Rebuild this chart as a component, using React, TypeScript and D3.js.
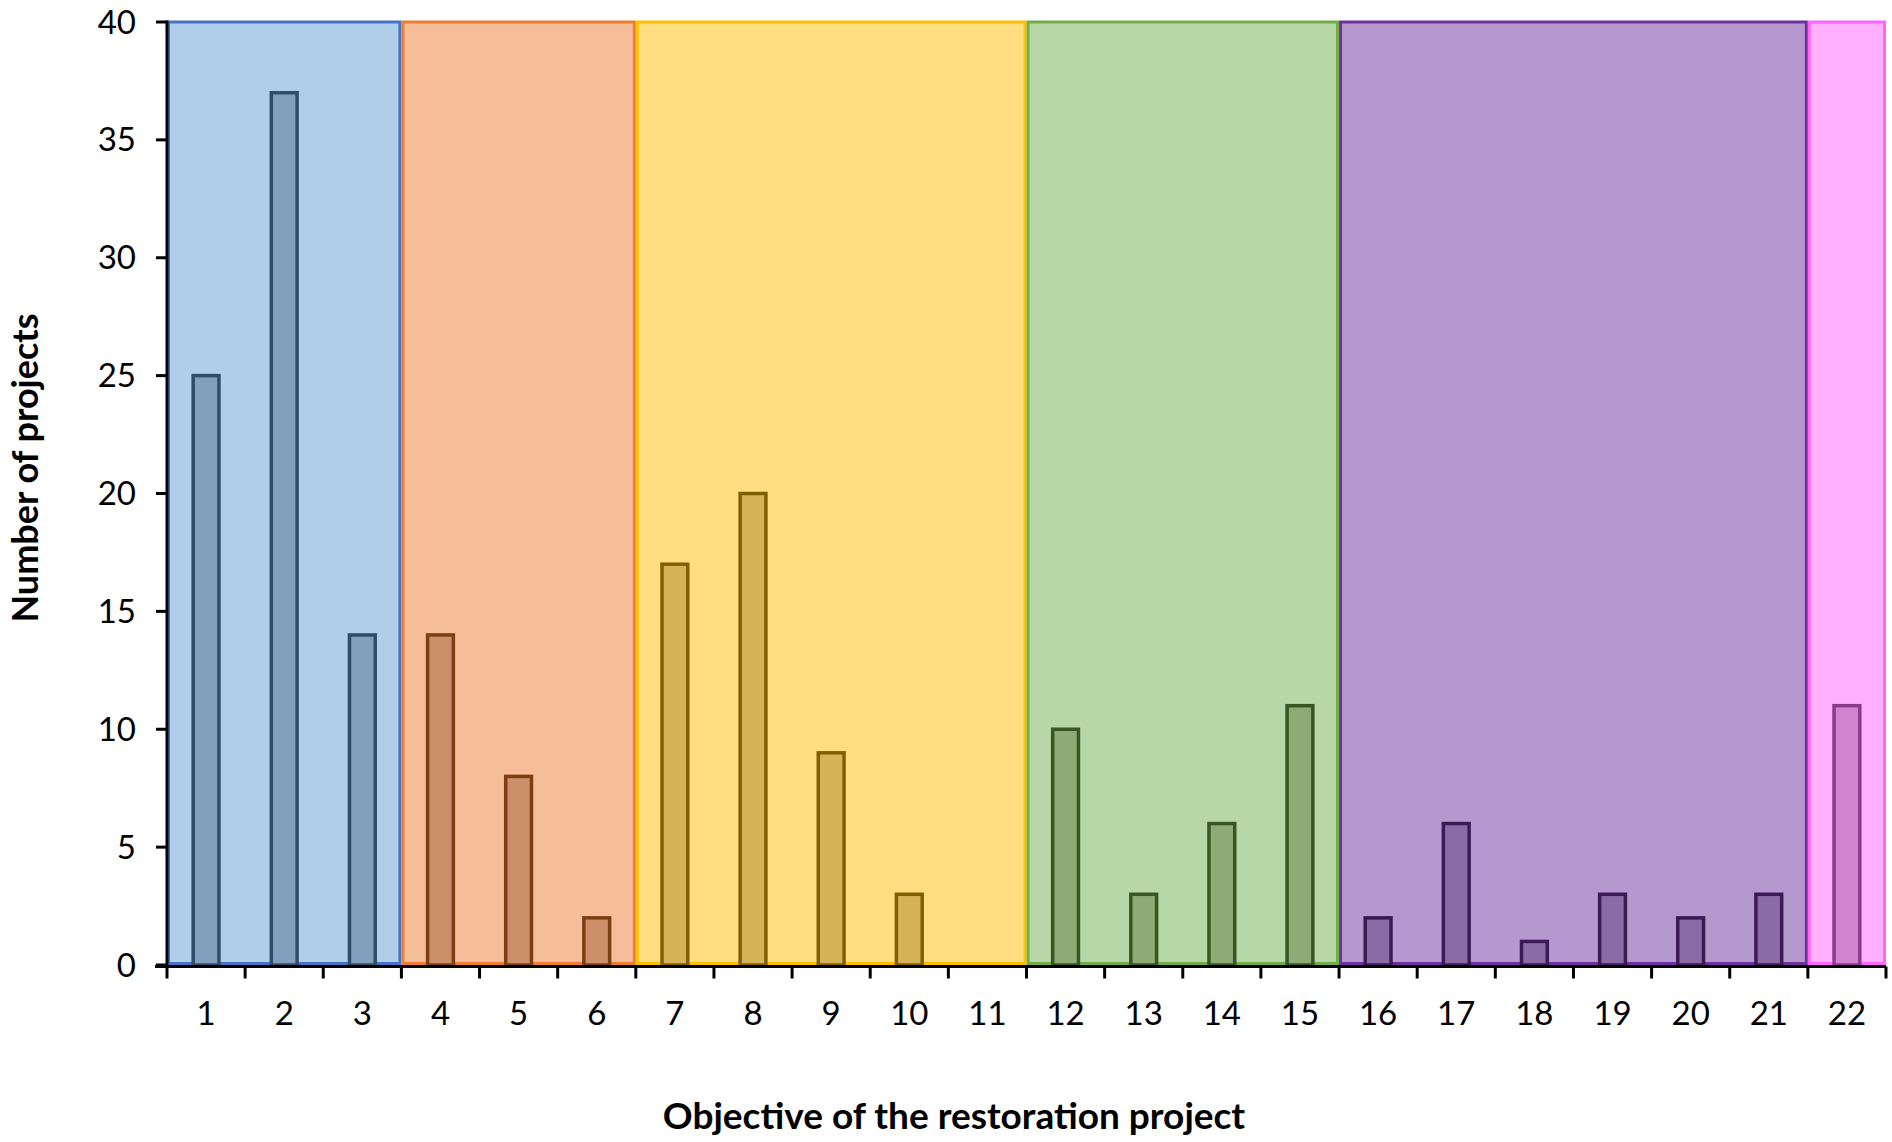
import React, { useEffect, useRef } from 'react'
import * as d3 from 'd3'

// Objectives (x categories) and number of projects for each
const objectives = ['1', '2', '3', '4', '5', '6', '7', '8', '9', '10', '11', '12', '13', '14', '15', '16', '17', '18', '19', '20', '21', '22']
const projects = [25, 37, 14, 14, 8, 2, 17, 20, 9, 3, 0, 10, 3, 6, 11, 2, 6, 1, 3, 2, 3, 11]

// Groups of objectives, shown as coloured boxes behind the bars
const groupFirst = ['1', '4', '7', '12', '16', '22']
const groupLast = ['3', '6', '11', '15', '21', '22']
const groupFill = ['#b0cdea', '#f6bd99', '#ffdd80', '#b8d7a6', '#b598cd', '#ffb0ff']
const groupStroke = ['#4472c4', '#ed7d31', '#ffc000', '#70ad47', '#7030a0', '#ff66ff']
const barFill = ['#829fbe', '#cc8f69', '#d5b455', '#8daa77', '#8b6ba5', '#d283cf']
const barStroke = ['#2f4c68', '#7a3f12', '#7f6000', '#385623', '#3b1a55', '#8a3a8a']

const yTicks = [0, 5, 10, 15, 20, 25, 30, 35, 40]

export default function App() {
  const svgRef = useRef<SVGSVGElement>(null)
  const width = 1892
  const height = 1142

  useEffect(() => {
    if (!svgRef.current) return
    const root = d3.select(svgRef.current)
    root.selectAll('*').remove()

    const margin = { top: 22, right: 6, bottom: 177, left: 167 }
    const innerWidth = width - margin.left - margin.right
    const innerHeight = height - margin.top - margin.bottom
    const font = 'Lato, "Open Sans", sans-serif'

    const svg = root.append('g').attr('transform', `translate(${margin.left},${margin.top})`)

    const x = d3.scaleBand().domain(objectives).range([0, innerWidth]).padding(0)
    const y = d3.scaleLinear().domain([0, 40]).range([innerHeight, 0])

    const groupOf = (i: number) =>
      groupFirst.findIndex((f, g) => i >= objectives.indexOf(f) && i <= objectives.indexOf(groupLast[g]))

    // Group boxes
    svg
      .selectAll('.box')
      .data(groupFirst.map((f, g) => ({ f, l: groupLast[g], g })))
      .join('rect')
      .attr('x', (d) => (x(d.f) || 0) + 1.5)
      .attr('y', y(40))
      .attr('width', (d) => (x(d.l) || 0) + x.bandwidth() - (x(d.f) || 0) - 3)
      .attr('height', y(0) - y(40) - 1.5)
      .attr('fill', (d) => groupFill[d.g])
      .attr('stroke', (d) => groupStroke[d.g])
      .attr('stroke-width', 3)

    // Bars
    const bw = x.bandwidth() * 0.33
    svg
      .selectAll('.bar')
      .data(projects.map((v, i) => ({ v, i })).filter((d) => d.v > 0))
      .join('rect')
      .attr('x', (d) => (x(objectives[d.i]) || 0) + (x.bandwidth() - bw) / 2)
      .attr('y', (d) => y(d.v))
      .attr('width', bw)
      .attr('height', (d) => y(0) - y(d.v))
      .attr('fill', (d) => barFill[groupOf(d.i)])
      .attr('stroke', (d) => barStroke[groupOf(d.i)])
      .attr('stroke-width', 3.5)

    // X axis
    const xAxis = svg.append('g').attr('transform', `translate(0,${y(0) + 1.5})`)
    xAxis
      .append('line')
      .attr('x1', -12)
      .attr('x2', innerWidth)
      .attr('stroke', '#000')
      .attr('stroke-width', 3)
    xAxis
      .selectAll('.xt')
      .data(objectives.concat(['end']))
      .join('line')
      .attr('x1', (d, i) => (i < objectives.length ? x(d) || 0 : innerWidth))
      .attr('x2', (d, i) => (i < objectives.length ? x(d) || 0 : innerWidth))
      .attr('y1', 0)
      .attr('y2', 12)
      .attr('stroke', '#000')
      .attr('stroke-width', 3)
    xAxis
      .selectAll('.xl')
      .data(objectives)
      .join('text')
      .attr('x', (d) => (x(d) || 0) + x.bandwidth() / 2)
      .attr('y', 58)
      .attr('text-anchor', 'middle')
      .style('font-family', font)
      .style('font-size', '33px')
      .text((d) => d)

    // Y axis
    const yAxis = svg.append('g')
    yAxis
      .append('line')
      .attr('x1', 0)
      .attr('x2', 0)
      .attr('y1', y(40) - 1.5)
      .attr('y2', y(0) + 3)
      .attr('stroke', '#000')
      .attr('stroke-width', 3)
    yAxis
      .selectAll('.yt')
      .data(yTicks)
      .join('line')
      .attr('x1', -11)
      .attr('x2', 0)
      .attr('y1', (d) => y(d))
      .attr('y2', (d) => y(d))
      .attr('stroke', '#000')
      .attr('stroke-width', 3)
    yAxis
      .selectAll('.yl')
      .data(yTicks)
      .join('text')
      .attr('x', -31)
      .attr('y', (d) => y(d))
      .attr('dy', '0.35em')
      .attr('text-anchor', 'end')
      .style('font-family', font)
      .style('font-size', '33px')
      .text((d) => d)

    // Axis titles
    svg
      .append('text')
      .attr('x', 954 - margin.left)
      .attr('y', 1129 - margin.top)
      .attr('text-anchor', 'middle')
      .style('font-family', font)
      .style('font-size', '37px')
      .style('font-weight', 'bold')
      .text('Objective of the restoration project')

    svg
      .append('text')
      .attr('transform', `translate(${38 - margin.left},${468 - margin.top}) rotate(-90)`)
      .attr('text-anchor', 'middle')
      .style('font-family', font)
      .style('font-size', '36px')
      .style('font-weight', 'bold')
      .text('Number of projects')
  }, [])

  return (
    <svg
      ref={svgRef}
      width={width}
      height={height}
      style={{ position: 'absolute', left: 0, top: 0, background: '#fff' }}
    ></svg>
  )
}
